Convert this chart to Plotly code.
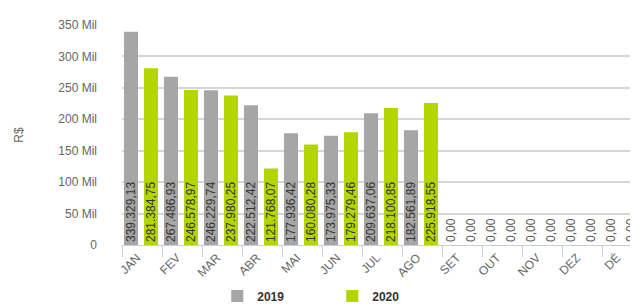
import plotly.graph_objects as go

months = ["JAN", "FEV", "MAR", "ABR", "MAI", "JUN", "JUL", "AGO", "SET", "OUT", "NOV", "DEZ", "DÉ"]
values_2019 = [339329.13, 267486.93, 246229.74, 222512.42, 177936.42, 173975.33, 209637.06, 182561.89, 0, 0, 0, 0, 0]
values_2020 = [281384.75, 246578.97, 237980.25, 121768.07, 160080.28, 179279.46, 218100.85, 225918.55, 0, 0, 0, 0, 0]
y_tick_vals = [0, 50000, 100000, 150000, 200000, 250000, 300000, 350000]
y_tick_text = ["0", "50 Mil", "100 Mil", "150 Mil", "200 Mil", "250 Mil", "300 Mil", "350 Mil"]

GRAY = "#a6a6a6"
GREEN = "#b3d600"
FONT = "Liberation Sans, Arial, sans-serif"


def positions(vals):
    return ["inside" if v > 0 else "outside" for v in vals]


def make_trace(name, vals, color, offset):
    return go.Bar(
        name=name,
        x=months,
        y=vals,
        marker=dict(color=color, line=dict(width=0)),
        width=0.35,
        offset=offset,
        texttemplate="%{y:,.2f}",
        textposition=positions(vals),
        insidetextanchor="start",
        textangle=-90,
        constraintext="none",
        cliponaxis=False,
        insidetextfont=dict(family=FONT, size=12, color="#333333"),
        outsidetextfont=dict(family=FONT, size=12, color="#555555"),
    )


fig = go.Figure()
fig.add_trace(make_trace("2019", values_2019, GRAY, -0.45))
fig.add_trace(make_trace("2020", values_2020, GREEN, 0.05))

fig.update_layout(
    width=638,
    height=305,
    margin=dict(l=114, r=8, t=17, b=68, autoexpand=False),
    paper_bgcolor="white",
    plot_bgcolor="white",
    barmode="overlay",
    separators=",.",
    font=dict(family=FONT, size=12, color="#666666"),
    showlegend=True,
    legend=dict(
        orientation="h",
        xref="container",
        yref="container",
        x=0.328,
        xanchor="left",
        y=0.056,
        yanchor="middle",
        font=dict(family=FONT, size=12, color="#333333", weight="bold"),
        entrywidth=70,
        entrywidthmode="pixels",
        itemsizing="constant",
    ),
    xaxis=dict(
        type="category",
        range=[-0.5, 12.4],
        tickangle=-45,
        tickfont=dict(family=FONT, size=12, color="#666666"),
        ticklabelshift=-5,
        ticks="outside",
        tickson="boundaries",
        ticklen=11,
        tickcolor="#c8cfdc",
        showline=True,
        linecolor="#c8cfdc",
        linewidth=1,
        showgrid=False,
        automargin=False,
    ),
    yaxis=dict(
        range=[0, 350000],
        tickvals=y_tick_vals,
        ticktext=y_tick_text,
        tickfont=dict(family=FONT, size=12, color="#666666"),
        showgrid=True,
        gridcolor="#d6d6d6",
        gridwidth=1.5,
        zeroline=False,
        showline=False,
        ticklabelstandoff=24,
        automargin=False,
        title=dict(text="R$", font=dict(family=FONT, size=12, color="#666666"), standoff=32),
    ),
    annotations=[
        dict(
            text="Nota: Realizado",
            xref="paper", yref="paper",
            x=-0.221, y=-0.2545,
            xanchor="left", yanchor="top",
            showarrow=False,
            font=dict(family=FONT, size=8, color="#aaaaaa"),
        )
    ],
)

fig.write_html("out.html")
